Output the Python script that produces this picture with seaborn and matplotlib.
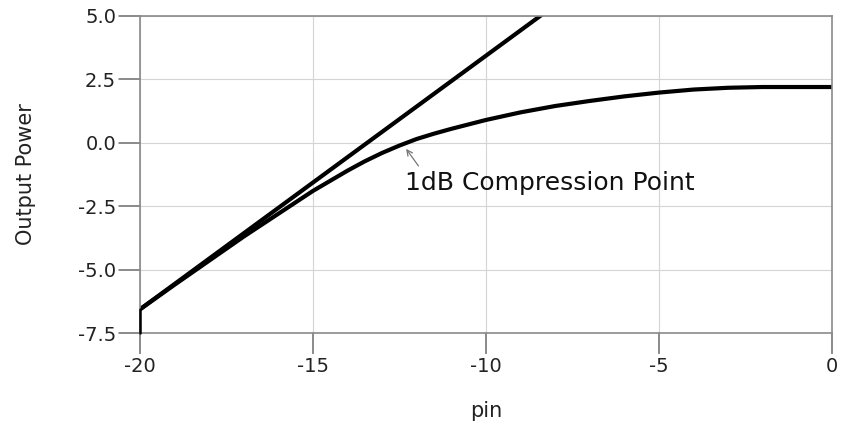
import numpy as np
import pandas as pd
import seaborn as sns
from matplotlib import pyplot as plt

#---------------------------Data----------------------------------------------
# input power (dBm)
pin = [-20, -19, -18, -17, -16, -15, -14.5, -14, -13.5, -13, -12.5, -12,
       -11.5, -11, -10, -9, -8, -7, -6, -5, -4, -3, -2, -1, 0]

# compressed amplifier output
pout = [-6.57, -5.6, -4.65, -3.7, -2.8, -1.9, -1.5, -1.1, -0.73, -0.4, -0.11,
        0.15, 0.36, 0.55, 0.9, 1.2, 1.45, 1.65, 1.83, 1.98, 2.1, 2.17, 2.2,
        2.2, 2.2]

# ideal linear gain line (only drawn until it leaves the plot)
pin_linear = [-20, -19, -18, -17, -16, -15, -14, -13, -12, -11, -10, -9, -8]
pout_linear = [-6.57, -5.57, -4.57, -3.57, -2.57, -1.57, -0.57, 0.43,
               1.43, 2.43, 3.43, 4.43, 5.43]

x_ticks = [-20, -15, -10, -5, 0]
y_ticks = [-7.5, -5.0, -2.5, 0.0, 2.5, 5.0]

# 1dB compression point annotation
p1db_pin = -12.35
p1db_pout = -0.15
label_pos = (-12.35, -1.6)

#---------------------------Plot----------------------------------------------
sns.set_style('ticks', {'axes.grid': True, 'grid.color': '#d4d4d4',
                        'axes.edgecolor': '#8a8a8a'})
plt.rcParams['font.family'] = ['DejaVu Sans']
plt.rcParams['axes.unicode_minus'] = False
plt.rcParams['xtick.major.size'] = 15
plt.rcParams['ytick.major.size'] = 15
plt.rcParams['xtick.major.width'] = 1.2
plt.rcParams['ytick.major.width'] = 1.2
plt.rcParams['xtick.color'] = '#8a8a8a'
plt.rcParams['ytick.color'] = '#8a8a8a'
plt.rcParams['xtick.labelcolor'] = '#222222'
plt.rcParams['ytick.labelcolor'] = '#222222'
plt.rcParams['xtick.major.pad'] = 2
plt.rcParams['ytick.major.pad'] = 2

df_lin = pd.DataFrame({'pin': pin_linear, 'pout': pout_linear})
df_cmp = pd.DataFrame({'pin': pin, 'pout': pout})

fig = plt.figure(figsize=(8.42, 4.32), dpi=100)
ax = fig.add_axes([0.166, 0.229, 0.822, 0.734])

sns.lineplot(data=df_lin, x='pin', y='pout', color='black', lw=3, ax=ax)
sns.lineplot(data=df_cmp, x='pin', y='pout', color='black', lw=3, ax=ax)

# short vertical start segment at the left edge
ax.plot([pin[0], pin[0]], [y_ticks[0], pout[0]], color='black', lw=1.8,
        clip_on=False, zorder=5)

ax.set_xlim(x_ticks[0], x_ticks[-1])
ax.set_ylim(y_ticks[0], y_ticks[-1])
ax.set_xticks(x_ticks)
ax.set_yticks(y_ticks)
ax.set_yticklabels(['%.1f' % v for v in y_ticks])
ax.tick_params(labelsize=14)
for s in ax.spines.values():
    s.set_linewidth(1.2)

# long outward tick marks, drawn explicitly so they always show
for t in x_ticks:
    ax.plot([t, t], [0, -0.062], transform=ax.get_xaxis_transform(),
            color='#8a8a8a', lw=1.2, clip_on=False)
for t in y_ticks:
    ax.plot([0, -0.03], [t, t], transform=ax.get_yaxis_transform(),
            color='#8a8a8a', lw=1.2, clip_on=False)

ax.set_xlabel('pin', fontsize=15, labelpad=18, color='#222222')
ax.set_ylabel('Output Power', fontsize=15, labelpad=30, color='#222222')

ax.annotate('', xy=(p1db_pin, p1db_pout), xytext=(p1db_pin + 0.45, p1db_pout - 0.85),
            arrowprops=dict(arrowstyle='->', color='#777777', lw=0.9))
ax.text(label_pos[0], label_pos[1], '1dB Compression Point', fontsize=18,
        ha='left', va='center', color='#111111')

fig.savefig('out.png', dpi=100)
